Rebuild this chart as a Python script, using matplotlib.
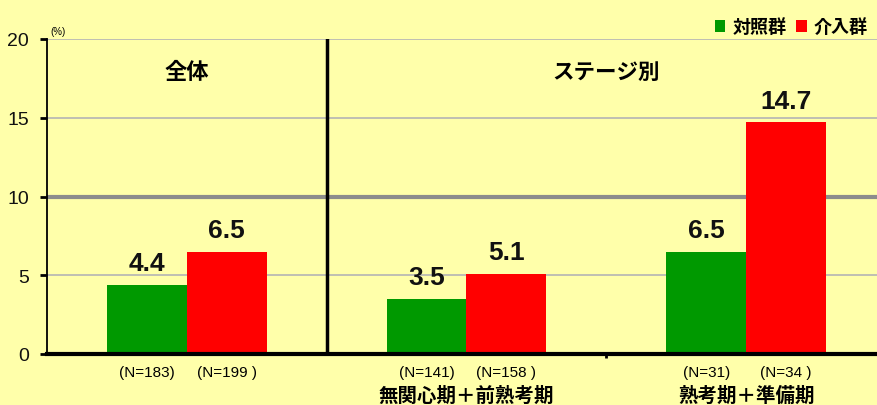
import matplotlib
matplotlib.use('Agg')
from matplotlib import pyplot as plt
import numpy as np

plt.rcParams['font.family'] = ['Liberation Sans', 'Noto Sans CJK JP']

groups = ['全体', '無関心期＋前熟考期', '熟考期＋準備期']
control = [4.4, 3.5, 6.5]
intervention = [6.5, 5.1, 14.7]
n_control = ['(N=183)', '(N=141)', '(N=31)']
n_interv = ['(N=199 )', '(N=158 )', '(N=34 )']
series_names = ['対照群', '介入群']
yticks = [0, 5, 10, 15, 20]

bg = '#FFFFAA'
fig = plt.figure(figsize=(8.77, 4.06), dpi=100, facecolor=bg)
ax = fig.add_axes([47/877, 51/406, 830/877, 315/406], facecolor=bg)

x = np.arange(len(groups))
w = 80/280
b1 = ax.bar(x - w/2, control, w, color='#009900', label=series_names[0], zorder=3)
b2 = ax.bar(x + w/2, intervention, w, color='#FF0000', label=series_names[1], zorder=3)

for bars, vals in [(b1, control), (b2, intervention)]:
    for r, v in zip(bars, vals):
        ax.text(r.get_x() + r.get_width()/2, v + 0.6, f'{v:.1f}', ha='center', va='bottom',
                fontsize=19, fontweight='bold', color='#111111')

ax.set_xlim(-0.5, 2.468)
ax.set_ylim(0, 20)
ax.set_yticks(yticks)
ax.set_yticklabels([str(t) for t in yticks], fontsize=14, color='#111111')
ax.tick_params(axis='y', length=5, width=2, pad=8, direction='out')
ax.set_xticks([1.5])
ax.set_xticklabels([''])
ax.tick_params(axis='x', length=3, width=2)

for t in [5, 15, 20]:
    ax.axhline(t, color='#b4b4b4', lw=1.2, zorder=1)
ax.axhline(10, color='#8c8c8c', lw=3, zorder=1)
ax.axvline(0.5, color='black', lw=2.5, zorder=4)

for s in ['top', 'right']:
    ax.spines[s].set_visible(False)
ax.spines['left'].set_linewidth(1.3)
ax.spines['bottom'].set_linewidth(3)
ax.spines['bottom'].set_zorder(5)

tr = ax.get_xaxis_transform()
for i in range(len(groups)):
    ax.text(x[i] - w/2, -0.057, n_control[i], transform=tr, ha='center', va='center', fontsize=11)
    ax.text(x[i] + w/2, -0.057, n_interv[i], transform=tr, ha='center', va='center', fontsize=11)
    if i > 0:
        ax.text(x[i], -0.132, groups[i], transform=tr, ha='center', va='center',
                fontsize=14, fontweight='bold')

ax.text(0, 0.895, groups[0], transform=tr, ha='center', va='center', fontsize=16, fontweight='bold')
ax.text(1.5, 0.895, 'ステージ別', transform=tr, ha='center', va='center', fontsize=15.5, fontweight='bold')
ax.text(0.004, 1.025, '(%)', transform=ax.transAxes, fontsize=7, ha='left', va='center')

fig.legend(handles=[b1, b2], loc='upper right', bbox_to_anchor=(1.008, 0.995), ncol=2, frameon=False,
           handlelength=0.6, handleheight=0.6, handletextpad=0.4, columnspacing=0.5,
           prop={'family': 'Noto Sans CJK JP', 'weight': 'bold', 'size': 13})

fig.savefig('out.png', dpi=100, facecolor=bg)
